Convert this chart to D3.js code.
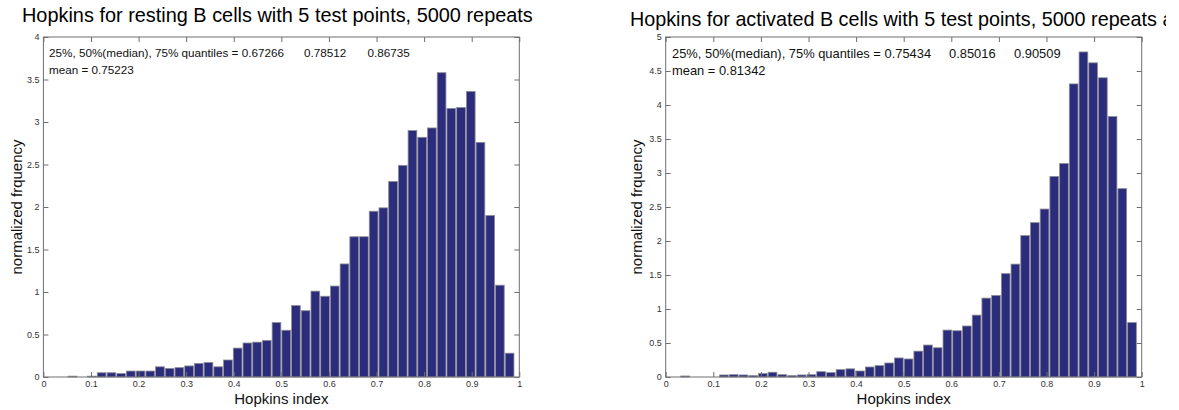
<!DOCTYPE html>
<html>
<head>
<meta charset="utf-8">
<script src="https://cdn.jsdelivr.net/npm/d3@7"></script>
<style>
  html, body { margin: 0; padding: 0; background: #fff; }
  svg text { font-family: "Liberation Sans", Arial, Helvetica, sans-serif; }
</style>
</head>
<body>
<div id="chart"></div>
<script>
"use strict";

// bin centres of the histogram (k / 49), shared by both panels
const binCenters = [
  0.0408, 0.0612, 0.0816, 0.1020, 0.1224, 0.1429, 0.1633, 0.1837, 0.2041, 0.2245,
  0.2449, 0.2653, 0.2857, 0.3061, 0.3265, 0.3469, 0.3673, 0.3878, 0.4082, 0.4286,
  0.4490, 0.4694, 0.4898, 0.5102, 0.5306, 0.5510, 0.5714, 0.5918, 0.6122, 0.6327,
  0.6531, 0.6735, 0.6939, 0.7143, 0.7347, 0.7551, 0.7755, 0.7959, 0.8163, 0.8367,
  0.8571, 0.8776, 0.8980, 0.9184, 0.9388, 0.9592, 0.9796,
];
const binWidth = 1 / 49;

const restingFreq = [
  0, 0.01, 0, 0.01, 0.05, 0.05, 0.04, 0.07, 0.07, 0.07,
  0.12, 0.10, 0.11, 0.13, 0.16, 0.17, 0.12, 0.20, 0.34, 0.40,
  0.41, 0.43, 0.64, 0.55, 0.84, 0.78, 1.01, 0.95, 1.07, 1.33,
  1.65, 1.65, 1.95, 1.99, 2.30, 2.49, 2.90, 2.82, 2.93, 3.58,
  3.16, 3.17, 3.36, 2.76, 1.90, 1.08, 0.28,
];

const activatedFreq = [
  0.015, 0, 0, 0, 0.03, 0.034, 0.03, 0.02, 0.05, 0.07,
  0.034, 0.02, 0.03, 0.034, 0.078, 0.064, 0.108, 0.12, 0.088, 0.147,
  0.167, 0.206, 0.28, 0.265, 0.38, 0.47, 0.43, 0.69, 0.68, 0.75,
  0.91, 1.16, 1.20, 1.52, 1.66, 2.08, 2.27, 2.47, 2.95, 3.14,
  4.31, 4.78, 4.62, 4.40, 3.83, 2.77, 0.80,
];

const xTicks = [0, 0.1, 0.2, 0.3, 0.4, 0.5, 0.6, 0.7, 0.8, 0.9, 1];
const restingYTicks = [0, 0.5, 1, 1.5, 2, 2.5, 3, 3.5, 4];
const activatedYTicks = [0, 0.5, 1, 1.5, 2, 2.5, 3, 3.5, 4, 4.5, 5];

const restingTitle = "Hopkins for resting B cells with 5 test points, 5000 repeats";
const activatedTitle = "Hopkins for activated B cells with 5 test points, 5000 repeats and";
const restingQuantiles = ["0.67266", "0.78512", "0.86735"];
const activatedQuantiles = ["0.75434", "0.85016", "0.90509"];
const restingMean = "0.75223";
const activatedMean = "0.81342";

const W = 1179;
const H = 410;
const BAR_FILL = "#2b2d7c";
const BAR_EDGE = "#8c8c96";
const AXIS_COLOR = "#6f6f6f";

const panels = [
  {
    left: 43.4, right: 519.3, top: 37, bottom: 377,
    yTicks: restingYTicks, values: restingFreq,
    title: restingTitle, titleX: 22, titleY: 22, titleSize: 19.9,
    quantiles: restingQuantiles, mean: restingMean,
    qX: [49, 304, 367.5], qY: [57, 74], qSize: 11.7, yLabelX: 17,
  },
  {
    left: 665.7, right: 1141.7, top: 37, bottom: 377,
    yTicks: activatedYTicks, values: activatedFreq,
    title: activatedTitle, titleX: 630, titleY: 26, titleSize: 19.75,
    quantiles: activatedQuantiles, mean: activatedMean,
    qX: [672, 949, 1014], qY: [58, 75], qSize: 12.9, yLabelX: 637,
  },
];

window.addEventListener("load", function () {
  const svg = d3.select("#chart").append("svg")
    .attr("width", W)
    .attr("height", H);

  // right title is cut by the picture edge
  svg.append("defs").append("clipPath")
    .attr("id", "edge")
    .append("rect")
    .attr("x", 0).attr("y", 0)
    .attr("width", 1166).attr("height", H);

  panels.forEach((p) => drawPanel(svg, p));
});

function drawPanel(svg, p) {
  const yMax = p.yTicks[p.yTicks.length - 1];
  const x = d3.scaleLinear().domain([0, 1]).range([p.left, p.right]);
  const y = d3.scaleLinear().domain([0, yMax]).range([p.bottom, p.top]);
  const fmt = d3.format("~g");

  const g = svg.append("g");

  // bars
  const bins = binCenters
    .map((c, i) => ({ c: c, v: p.values[i] }))
    .filter((d) => d.v > 0);

  g.append("g")
    .selectAll("rect")
    .data(bins)
    .enter()
    .append("rect")
    .attr("x", (d) => x(d.c - binWidth / 2) + 0.5)
    .attr("width", (d) => x(d.c + binWidth / 2) - x(d.c - binWidth / 2) - 1)
    .attr("y", (d) => y(d.v))
    .attr("height", (d) => y(0) - y(d.v))
    .attr("fill", BAR_FILL)
    .attr("stroke", BAR_EDGE)
    .attr("stroke-width", 0.8);

  // axes, ticks pointing inwards on all four sides
  const styleAxis = (sel) => {
    sel.select(".domain").remove();
    sel.selectAll(".tick line").attr("stroke", AXIS_COLOR);
    sel.selectAll(".tick text")
      .attr("fill", "#333")
      .style("font-size", "9px")
      .style("font-family", '"Liberation Sans", Arial, sans-serif');
  };

  g.append("g")
    .attr("transform", `translate(0,${p.bottom})`)
    .call(d3.axisBottom(x).tickValues(xTicks).tickFormat(fmt)
      .tickSizeInner(-5).tickSizeOuter(0).tickPadding(4))
    .call(styleAxis);

  g.append("g")
    .attr("transform", `translate(0,${p.top})`)
    .call(d3.axisTop(x).tickValues(xTicks).tickFormat("")
      .tickSizeInner(-5).tickSizeOuter(0))
    .call(styleAxis);

  g.append("g")
    .attr("transform", `translate(${p.left},0)`)
    .call(d3.axisLeft(y).tickValues(p.yTicks).tickFormat(fmt)
      .tickSizeInner(-5).tickSizeOuter(0).tickPadding(4))
    .call(styleAxis);

  g.append("g")
    .attr("transform", `translate(${p.right},0)`)
    .call(d3.axisRight(y).tickValues(p.yTicks).tickFormat("")
      .tickSizeInner(-5).tickSizeOuter(0))
    .call(styleAxis);

  // box
  g.append("rect")
    .attr("x", p.left)
    .attr("y", p.top)
    .attr("width", p.right - p.left)
    .attr("height", p.bottom - p.top)
    .attr("fill", "none")
    .attr("stroke", AXIS_COLOR)
    .attr("stroke-width", 1);

  // title
  g.append("text")
    .attr("x", p.titleX)
    .attr("y", p.titleY)
    .attr("clip-path", "url(#edge)")
    .style("font-size", p.titleSize + "px")
    .attr("fill", "#000")
    .text(p.title);

  // quantile / mean annotations
  const q = g.append("text")
    .attr("y", p.qY[0])
    .style("font-size", p.qSize + "px")
    .attr("fill", "#111");
  q.append("tspan").attr("x", p.qX[0])
    .text("25%, 50%(median), 75% quantiles = " + p.quantiles[0]);
  q.append("tspan").attr("x", p.qX[1]).text(p.quantiles[1]);
  q.append("tspan").attr("x", p.qX[2]).text(p.quantiles[2]);

  g.append("text")
    .attr("x", p.qX[0])
    .attr("y", p.qY[1])
    .style("font-size", p.qSize + "px")
    .attr("fill", "#111")
    .text("mean = " + p.mean);

  // axis labels
  g.append("text")
    .attr("x", (p.left + p.right) / 2)
    .attr("y", 404)
    .attr("text-anchor", "middle")
    .style("font-size", "15px")
    .attr("fill", "#111")
    .text("Hopkins index");

  g.append("text")
    .attr("transform", `translate(${p.yLabelX + 5},${(p.top + p.bottom) / 2}) rotate(-90)`)
    .attr("text-anchor", "middle")
    .style("font-size", "15px")
    .attr("fill", "#111")
    .text("normalized frquency");
}
</script>
</body>
</html>
